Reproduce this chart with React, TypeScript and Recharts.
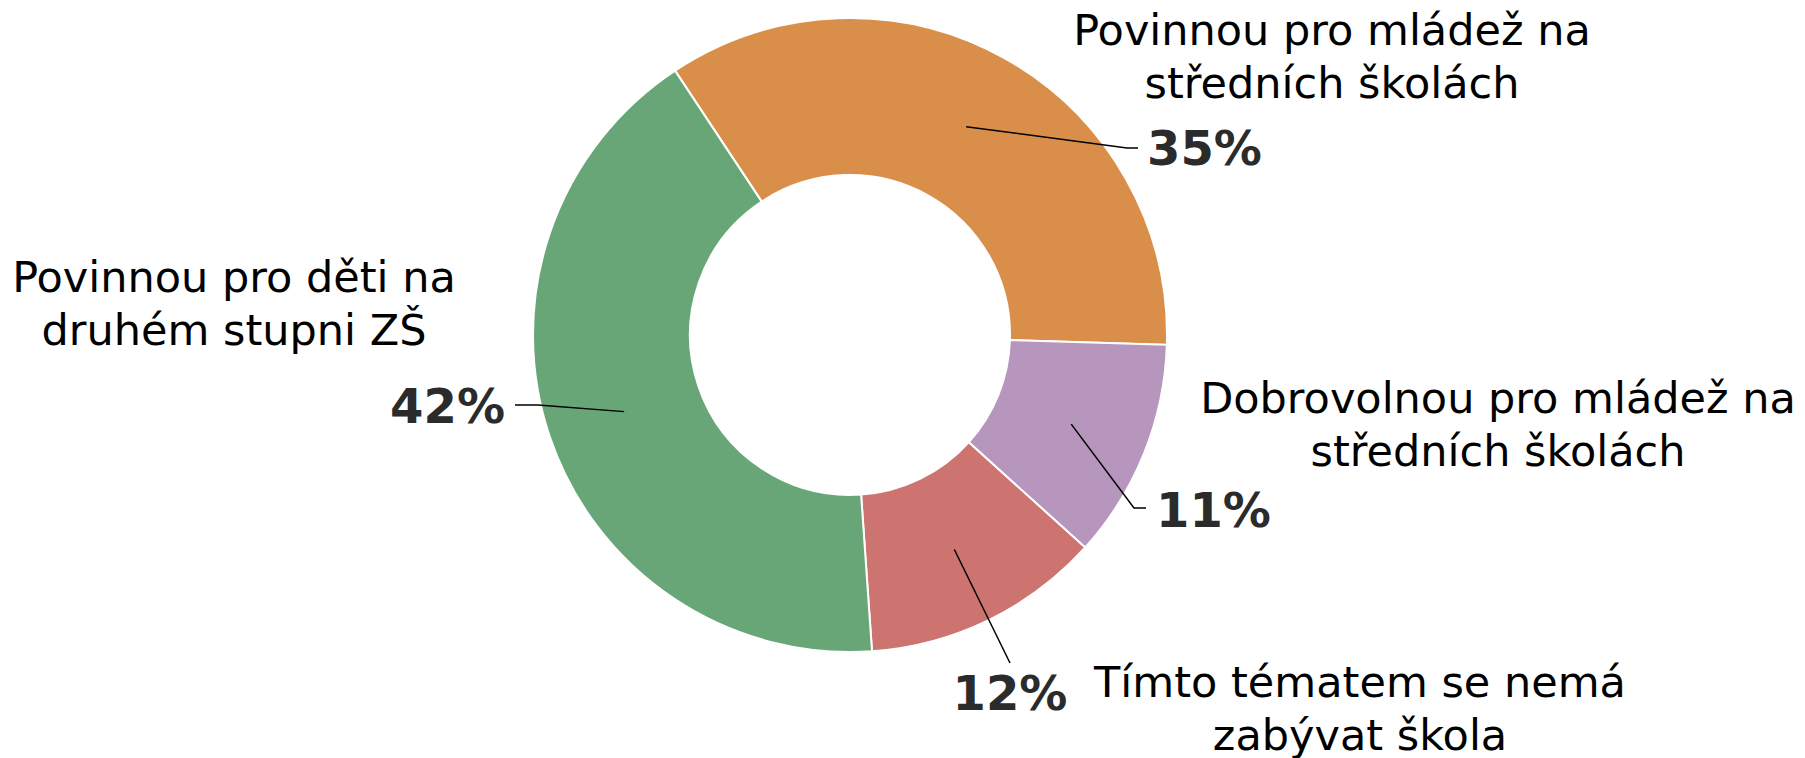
import React from 'react';
import { PieChart, Pie, Cell } from 'recharts';

const categories = [
  'Povinnou pro mládež na středních školách',
  'Dobrovolnou pro mládež na středních školách',
  'Tímto tématem se nemá zabývat škola',
  'Povinnou pro děti na druhém stupni ZŠ',
];
const categoryLines = [
  ['Povinnou pro mládež na', 'středních školách'],
  ['Dobrovolnou pro mládež na', 'středních školách'],
  ['Tímto tématem se nemá', 'zabývat škola'],
  ['Povinnou pro děti na', 'druhém stupni ZŠ'],
];
const shares = [34.8, 11.2, 12.2, 41.8];
const colors = ['#D98F4A', '#B796BE', '#CD7471', '#68A677'];

// label layout, offsets relative to the pie centre
const labelLayout = [
  { elbow: [277, -187], end: [288, -187], pct: [297, -170], anchor: 'start', title: [482, -290] },
  { elbow: [284, 173], end: [296, 173], pct: [306, 192], anchor: 'start', title: [648, 78] },
  { elbow: [160, 328], end: [160, 328], pct: [160, 375], anchor: 'middle', title: [510, 362] },
  { elbow: [-312, 70], end: [-335, 70], pct: [-345, 88], anchor: 'end', title: [-616, -43] },
];
const lineGap = 53;

const data = categories.map((c, i) => ({ name: c, value: shares[i] }));

const FONT = '"DejaVu Sans", Verdana, sans-serif';

const renderLabel = (props: any) => {
  const { cx, cy, midAngle, innerRadius, outerRadius, index } = props;
  const RAD = Math.PI / 180;
  const r = (innerRadius + outerRadius) / 2;
  const sx = cx + r * Math.cos(-midAngle * RAD);
  const sy = cy + r * Math.sin(-midAngle * RAD);
  const L = labelLayout[index];
  const ex = cx + L.elbow[0];
  const ey = cy + L.elbow[1];
  const fx = cx + L.end[0];
  const fy = cy + L.end[1];
  const lines = categoryLines[index];
  return (
    <g key={`lbl-${index}`}>
      <polyline
        points={`${sx},${sy} ${ex},${ey} ${fx},${fy}`}
        fill="none"
        stroke="#000"
        strokeWidth={1.5}
      />
      <text
        x={cx + L.pct[0]}
        y={cy + L.pct[1]}
        textAnchor={L.anchor as any}
        fontFamily={FONT}
        fontWeight="bold"
        fontSize={48}
        fill="#2b2b2b"
      >
        {Math.round(shares[index])}%
      </text>
      <text textAnchor="middle" fontFamily={FONT} fontSize={43} fill="#000">
        {lines.map((l, i) => (
          <tspan key={i} x={cx + L.title[0]} y={cy + L.title[1] + i * lineGap}>
            {l}
          </tspan>
        ))}
      </text>
    </g>
  );
};

export default function App() {
  return (
    <div style={{ position: 'absolute', left: 0, top: 0, background: '#fff' }}>
      <PieChart width={1805} height={758} margin={{ top: 0, right: 0, bottom: 0, left: 0 }}>
        <Pie
          data={data}
          dataKey="value"
          nameKey="name"
          cx={850}
          cy={335}
          innerRadius={160}
          outerRadius={317}
          startAngle={123.5}
          endAngle={-236.5}
          stroke="#fff"
          strokeWidth={2}
          label={renderLabel}
          labelLine={false}
          isAnimationActive={false}
        >
          {data.map((d, i) => (
            <Cell key={d.name} fill={colors[i]} />
          ))}
        </Pie>
      </PieChart>
    </div>
  );
}
